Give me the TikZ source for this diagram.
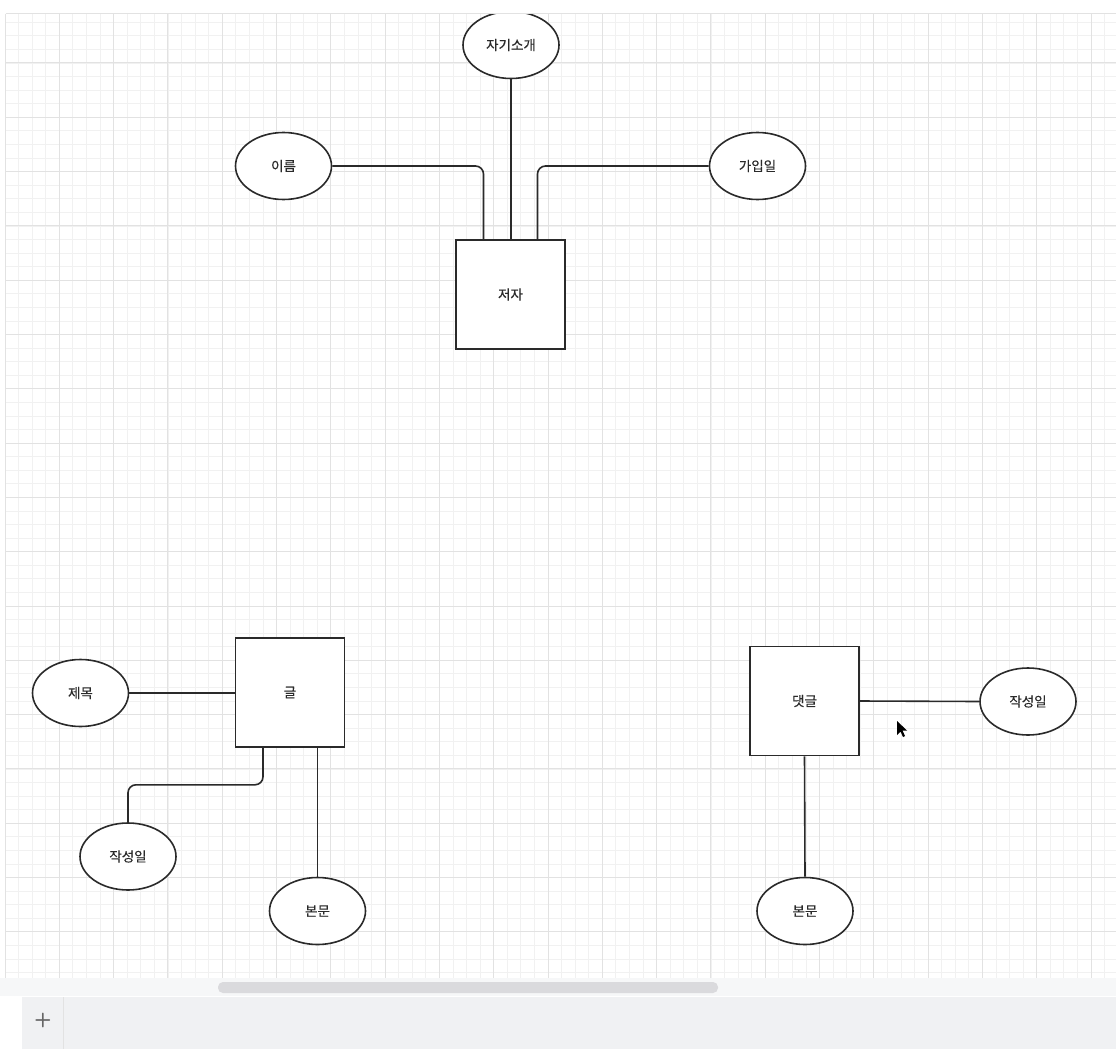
\documentclass[tikz,border=0pt]{standalone}
\usepackage{fontspec}
\newfontfamily\kr[FakeBold=0.3]{Noto Sans CJK KR}
\usepackage{tikz}
\usetikzlibrary{shapes.geometric}

\definecolor{ink}{HTML}{2A2A2A}
\definecolor{gridminor}{HTML}{F1F1F1}
\definecolor{gridmajor}{HTML}{E2E2E2}
\definecolor{barbg}{HTML}{F0F1F3}
\definecolor{thumb}{HTML}{DADADD}

\begin{document}
\begin{tikzpicture}[
  x=1pt, y=-1pt,
  every node/.style={font=\kr\fontsize{13.5}{15}\selectfont, text=ink},
  entity/.style={draw=ink, line width=1.6pt, fill=white, inner sep=0pt,
                 minimum width=109pt, minimum height=109pt},
  attr/.style={ellipse, draw=ink, line width=1.6pt, fill=white, inner sep=0pt,
               minimum width=96pt, minimum height=67pt},
  link/.style={draw=ink, line width=1.6pt, rounded corners=8pt},
  minor/.style={draw=gridminor, line width=0.8pt},
  major/.style={draw=gridmajor, line width=1pt}
]
\useasboundingbox (0,0) rectangle (1116,1049);
\fill[white] (0,0) rectangle (1116,1049);

%% ---- GRID -------------------------------------------------------
\foreach \k in {0,...,82}
  \draw[minor] ({5+\k*13.575},14) -- ({5+\k*13.575},978);
\foreach \k in {1,...,71}
  \draw[minor] (6,{8.7+\k*13.575}) -- (1116,{8.7+\k*13.575});
\foreach \k in {0,...,20}
  \draw[major] ({5+\k*54.3},14) -- ({5+\k*54.3},978);
\foreach \k in {1,...,17}
  \draw[major] (6,{8.7+\k*54.3}) -- (1116,{8.7+\k*54.3});
\draw[gridmajor, line width=1.2pt] (5.5,14) -- (5.5,978);

%% ---- AUTHOR -----------------------------------------------------
\node[entity] (author) at (510.5, 294.5) {저자};
\node[attr]   (intro)  at (511,   45)    {자기소개};
\node[attr]   (name)   at (283.5, 166)   {이름};
\node[attr]   (joined) at (757.5, 166)   {가입일};

\draw[link] (intro.south) -- (intro.south |- author.north);
\draw[link] (name.east) -| ([xshift=-27pt]author.north);
\draw[link] (joined.west) -| ([xshift=27pt]author.north);

%% ---- POST -------------------------------------------------------
\node[entity] (post)  at (290,   692.5) {글};
\node[attr]   (title) at (80.5,  693)   {제목};
\node[attr]   (pdate) at (128,   856.5) {작성일};
\node[attr]   (pbody) at (317.5, 911)   {본문};

\draw[link] (title.east) -- (post.west |- title.east);
\draw[link] ([xshift=-27pt]post.south) -- ++(0,37) -| (pdate.north);
\draw[link] (pbody.north |- post.south) -- (pbody.north);

%% ---- COMMENT ----------------------------------------------------
\node[entity] (comment) at (804.5, 701)   {댓글};
\node[attr]   (cdate)   at (1028,  701.5) {작성일};
\node[attr]   (cbody)   at (805,   911)   {본문};

\draw[link] (comment.east) -- (cdate.west);
\draw[link] (comment.south) -- (cbody.north);

%% mouse pointer
\fill[black] (897,721) -- (897,735) -- (900.5,731.5) -- (903,737) -- (905,736)
  -- (902.5,730.5) -- (907,730.5) -- cycle;

%% ---- WINDOW CHROME ----------------------------------------------
\fill[white] (0,0) rectangle (1116,14);
\draw[gridmajor, line width=1pt] (5.5,14) -- (1116,14);
\fill[barbg!60] (0,978) rectangle (1116,996);
\fill[thumb, rounded corners=5pt] (218,982) rectangle (718,993);
\fill[barbg] (22,997) rectangle (1116,1049);
\draw[gridmajor, line width=0.8pt] (63,997) -- (63,1049);
\node[text=gray!80!black, font=\sffamily\bfseries\fontsize{20}{20}\selectfont] (plus) at (43,1020) {+};
\end{tikzpicture}
\end{document}
